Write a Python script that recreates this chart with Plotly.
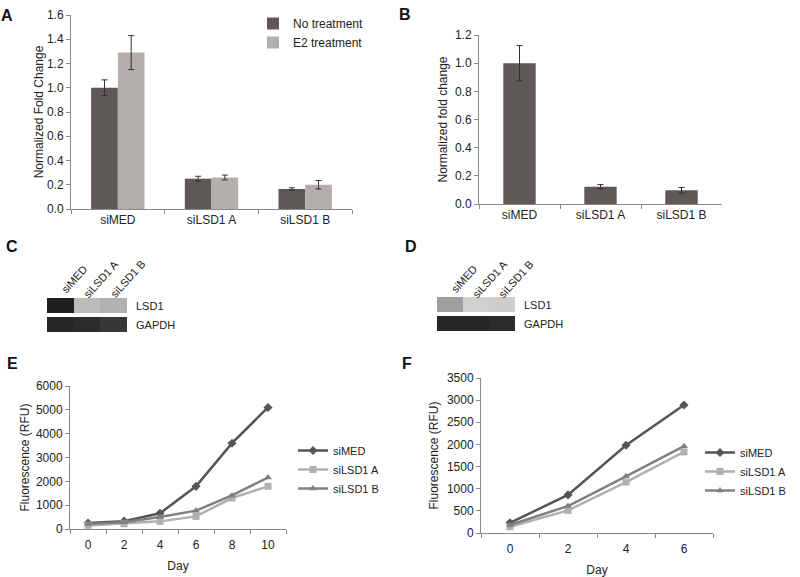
import plotly.graph_objects as go

# ---------------- data ----------------
bar_categories = ["siMED", "siLSD1 A", "siLSD1 B"]
a_no_treatment = [1.00, 0.25, 0.165]
a_no_treatment_err = [0.065, 0.02, 0.01]
a_e2_treatment = [1.29, 0.26, 0.20]
a_e2_treatment_err = [0.14, 0.02, 0.035]

b_values = [1.00, 0.123, 0.097]
b_err = [0.125, 0.015, 0.02]

blot_lanes = ["siMED", "siLSD1 A", "siLSD1 B"]
blot_rows = ["GAPDH", "LSD1"]
c_intensity = [[0.92, 0.90, 0.85],   # GAPDH
               [0.95, 0.22, 0.28]]   # LSD1
d_intensity = [[0.92, 0.92, 0.90],
               [0.38, 0.10, 0.12]]

e_days = [0, 2, 4, 6, 8, 10]
e_simed = [250, 330, 660, 1790, 3600, 5100]
e_silsd1a = [150, 220, 320, 530, 1300, 1790]
e_silsd1b = [210, 280, 500, 770, 1410, 2160]

f_days = [0, 2, 4, 6]
f_simed = [230, 860, 1980, 2890]
f_silsd1a = [140, 510, 1150, 1830]
f_silsd1b = [180, 610, 1280, 1960]

# ---------------- style ----------------
FONT = "Liberation Sans, Arial, sans-serif"
DARK_BAR = "#5f5955"
LIGHT_BAR = "#b5afab"
AXIS_COL = "#8a8a8a"
LINE_MED = "#555555"
LINE_A = "#b0b0b0"
LINE_B = "#808080"
FS = 12

W, H = 800, 577


def dx(p0, p1):
    return [p0 / W, p1 / W]


def dy(top, bottom):
    return [1 - bottom / H, 1 - top / H]


fig = go.Figure()

err_style = dict(type="data", color="#303030", thickness=1, width=3)

# Panel A
fig.add_trace(go.Bar(x=bar_categories, y=a_no_treatment, name="No treatment",
                     marker_color=DARK_BAR, marker_line_width=0,
                     error_y=dict(array=a_no_treatment_err, **err_style),
                     xaxis="x", yaxis="y", legend="legend"))
fig.add_trace(go.Bar(x=bar_categories, y=a_e2_treatment, name="E2 treatment",
                     marker_color=LIGHT_BAR, marker_line_width=0,
                     error_y=dict(array=a_e2_treatment_err, **err_style),
                     xaxis="x", yaxis="y", legend="legend"))

# Panel B
fig.add_trace(go.Bar(x=bar_categories, y=b_values, name="B", showlegend=False,
                     marker_color=DARK_BAR, marker_line_width=0, width=0.4,
                     error_y=dict(array=b_err, **err_style),
                     xaxis="x2", yaxis="y2"))

# Panels C and D (blots)
blot_scale = [[0, "#e4e2e0"], [0.5, "#8c8a88"], [1, "#141414"]]
fig.add_trace(go.Heatmap(x=[0, 1, 2], y=blot_rows, z=c_intensity, zmin=0, zmax=1,
                         colorscale=blot_scale, showscale=False, ygap=4,
                         hoverinfo="skip", xaxis="x3", yaxis="y3"))
fig.add_trace(go.Heatmap(x=[0, 1, 2], y=blot_rows, z=d_intensity, zmin=0, zmax=1,
                         colorscale=blot_scale, showscale=False, ygap=4,
                         hoverinfo="skip", xaxis="x4", yaxis="y4"))

# Panels E and F
line_specs = [("siMED", LINE_MED, "diamond"), ("siLSD1 A", LINE_A, "square"),
              ("siLSD1 B", LINE_B, "triangle-up")]
for (name, col, sym), ys in zip(line_specs, [e_simed, e_silsd1a, e_silsd1b]):
    fig.add_trace(go.Scatter(x=e_days, y=ys, name=name, mode="lines+markers",
                             line=dict(color=col, width=2.5),
                             marker=dict(symbol=sym, size=7, color=col),
                             xaxis="x5", yaxis="y5", legend="legend2"))
for (name, col, sym), ys in zip(line_specs, [f_simed, f_silsd1a, f_silsd1b]):
    fig.add_trace(go.Scatter(x=f_days, y=ys, name=name, mode="lines+markers",
                             line=dict(color=col, width=2.5),
                             marker=dict(symbol=sym, size=7, color=col),
                             xaxis="x6", yaxis="y6", legend="legend3"))

tickfont = dict(family=FONT, size=FS, color="#222")
titlefont = dict(family=FONT, size=FS, color="#222")

common_y = dict(showline=True, linecolor=AXIS_COL, linewidth=1, ticks="outside",
                ticklen=4, tickcolor=AXIS_COL, showgrid=False, zeroline=False,
                tickfont=tickfont, automargin=False)
cat_x = dict(showline=True, linecolor=AXIS_COL, linewidth=1, ticks="outside",
             ticklen=4, tickcolor=AXIS_COL, showgrid=False, tickson="boundaries",
             tickfont=tickfont, type="category", automargin=False)


def day_x(rng, vals):
    return dict(showline=True, linecolor=AXIS_COL, linewidth=1, showgrid=False,
                zeroline=False, range=rng, tickmode="array", tickvals=vals,
                ticks="", tickfont=tickfont, automargin=False,
                ticklabelstandoff=5,
                title=dict(text="Day", font=titlefont, standoff=10),
                minor=dict(tick0=-1, dtick=2, ticks="outside", ticklen=4,
                           tickcolor=AXIS_COL, showgrid=False))


hidden = dict(visible=False, showgrid=False, zeroline=False)
legfont = dict(family=FONT, size=FS, color="#222")
legfont_small = dict(family=FONT, size=11, color="#222")

fig.update_layout(
    width=W, height=H, margin=dict(l=0, r=0, t=0, b=0, autoexpand=False),
    paper_bgcolor="white", plot_bgcolor="white",
    font=dict(family=FONT, size=FS, color="#222"),
    barmode="group", bargap=0.43, bargroupgap=0,
    xaxis=dict(domain=dx(71, 352), anchor="y", **cat_x),
    yaxis=dict(domain=dy(15, 209), anchor="x", range=[0, 1.6], dtick=0.2,
               tickformat=".1f",
               title=dict(text="Normalized Fold Change", font=titlefont, standoff=0),
               **common_y),
    xaxis2=dict(domain=dx(479, 722), anchor="y2", **cat_x),
    yaxis2=dict(domain=dy(35, 204), anchor="x2", range=[0, 1.2], dtick=0.2,
                tickformat=".1f",
                title=dict(text="Normalized fold change", font=titlefont, standoff=4),
                **common_y),
    xaxis3=dict(domain=dx(47, 127), anchor="y3", range=[-0.5, 2.5], **hidden),
    yaxis3=dict(domain=dy(296, 334), anchor="x3", **hidden),
    xaxis4=dict(domain=dx(437, 515), anchor="y4", range=[-0.5, 2.5], **hidden),
    yaxis4=dict(domain=dy(295, 333), anchor="x4", **hidden),
    xaxis5=dict(domain=dx(70, 286), anchor="y5", **day_x([-1, 11], e_days)),
    yaxis5=dict(domain=dy(386, 529), anchor="x5", range=[0, 6000], dtick=1000,
                title=dict(text="Fluorescence (RFU)", font=titlefont, standoff=3),
                **common_y),
    xaxis6=dict(domain=dx(481, 713), anchor="y6", **day_x([-1, 7], f_days)),
    yaxis6=dict(domain=dy(378, 533), anchor="x6", range=[0, 3500], dtick=500,
                title=dict(text="Fluorescence (RFU)", font=titlefont, standoff=5),
                **common_y),
    legend=dict(x=253 / W, y=1 - 9 / H, xanchor="left", yanchor="top",
                font=legfont, bgcolor="rgba(0,0,0,0)", itemwidth=30,
                tracegroupgap=0),
    legend2=dict(x=293 / W, y=1 - 436 / H, xanchor="left", yanchor="top",
                 font=legfont_small, bgcolor="rgba(0,0,0,0)", itemwidth=30,
                 tracegroupgap=0),
    legend3=dict(x=700 / W, y=1 - 438 / H, xanchor="left", yanchor="top",
                 font=legfont_small, bgcolor="rgba(0,0,0,0)", itemwidth=30,
                 tracegroupgap=0),
)

# panel letters
letters = [("A", 7, 15), ("B", 405, 14), ("C", 12, 247), ("D", 411, 247),
           ("E", 12, 363), ("F", 407, 363)]
for t, px, py in letters:
    fig.add_annotation(text=f"<b>{t}</b>", x=px / W, y=1 - py / H, xref="paper",
                       yref="paper", showarrow=False, xanchor="center",
                       yanchor="middle", font=dict(family=FONT, size=16, color="#111"))

# blot labels
for xa, ya, lx in [("x3", "y3", 134), ("x4", "y4", 522)]:
    for row in blot_rows:
        fig.add_annotation(text=row, x=lx / W, xref="paper", y=row, yref=ya,
                           showarrow=False, xanchor="left", yanchor="middle",
                           font=dict(family=FONT, size=11, color="#222"))
    for i, lane in enumerate(blot_lanes):
        fig.add_annotation(text=lane, x=i, xref=xa, y=1 - 279 / H, yref="paper",
                           xshift=14, showarrow=False, textangle=-48,
                           xanchor="center", yanchor="middle",
                           font=dict(family=FONT, size=11, color="#222"))

fig.write_html(
    "out.html",
    config={"displayModeBar": False},
    post_script=("document.body.style.margin='0';"
                 "var d=document.getElementById('{plot_id}');"
                 "d.style.position='fixed';d.style.top='0';d.style.left='0';"),
)
